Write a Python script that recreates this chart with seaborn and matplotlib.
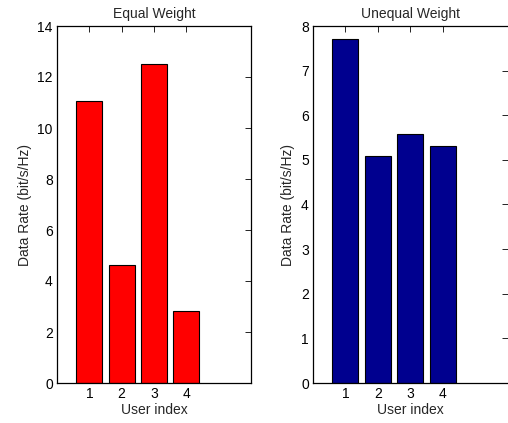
import matplotlib
matplotlib.use("Agg")
import matplotlib.pyplot as plt
import seaborn as sns
import pandas as pd

users = ["1", "2", "3", "4"]
equal_rates = [11.05, 4.62, 12.52, 2.81]
unequal_rates = [7.70, 5.08, 5.59, 5.31]
titles = ["Equal Weight", "Unequal Weight"]
colors = ["#FF0000", "#00008F"]
y_maxes = [14, 8]
y_steps = [2, 1]

sns.set_style("white")
plt.rcParams["font.family"] = ["Liberation Sans", "DejaVu Sans"]
plt.rcParams["font.size"] = 10

W, H = 508, 423
fig = plt.figure(figsize=(W / 100, H / 100), dpi=100)

positions = [
    [57 / W, 40 / H, 194 / W, 357 / H],
    [313 / W, 40 / H, 194.5 / W, 357 / H],
]

for i, (vals, title, col, ymax, step) in enumerate(
    zip([equal_rates, unequal_rates], titles, colors, y_maxes, y_steps)
):
    ax = fig.add_axes(positions[i])
    df = pd.DataFrame({"user": users, "rate": vals})
    sns.barplot(data=df, x="user", y="rate", order=users, color=col,
                saturation=1, width=0.8, edgecolor="black", linewidth=0.8,
                ax=ax)
    ax.set_xlim(-1, 5)
    ax.set_ylim(0, ymax)
    ax.set_yticks(range(0, ymax + 1, step))
    ax.set_title(title, fontsize=10, pad=6)
    ax.set_xlabel("User index", fontsize=10, labelpad=1)
    ax.set_ylabel("Data Rate (bit/s/Hz)", fontsize=10)
    ax.tick_params(direction="in", length=4, width=0.6, top=True, right=True,
                   labelsize=10, colors="black", pad=3)
    for s in ax.spines.values():
        s.set_color("black")
        s.set_linewidth(0.9)
        s.set_visible(True)
    if i == 1:
        ax.spines["right"].set_visible(False)

fig.savefig("out.png", dpi=100)
